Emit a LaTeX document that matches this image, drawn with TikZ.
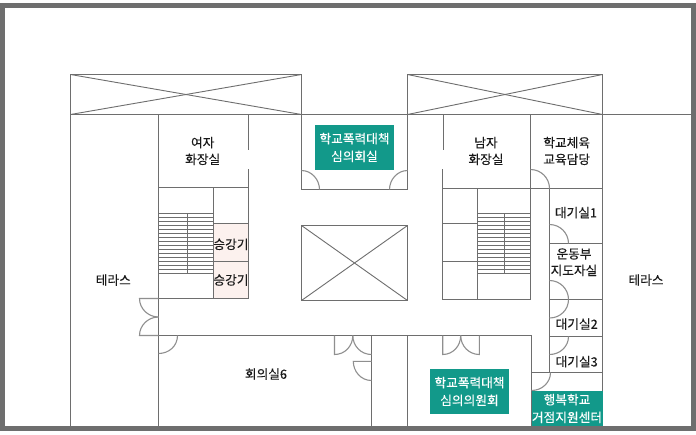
\documentclass[tikz,border=0pt]{standalone}
\usepackage{fontspec}
\setmainfont[FakeBold=0.15]{Noto Sans CJK KR}
\newlength{\du}
\setlength{\du}{1pt}
\definecolor{wallcolor}{rgb}{0.430000, 0.430000, 0.430000}
\definecolor{doorcolor}{rgb}{0.560000, 0.560000, 0.560000}
\definecolor{roomcolor}{rgb}{0.070000, 0.600000, 0.540000}
\definecolor{liftcolor}{rgb}{0.990000, 0.945000, 0.935000}
\definecolor{labelcolor}{rgb}{0.100000, 0.100000, 0.100000}
\tikzset{
  wall/.style={draw=wallcolor, line width=1.200000\du, line cap=rect},
  thinwall/.style={draw=wallcolor, line width=0.900000\du},
  frameline/.style={draw=wallcolor, line width=5.000000\du},
  door/.style={draw=doorcolor, line width=1.100000\du},
  roomlabel/.style={font=\fontsize{12.7}{16.6}\selectfont, text=labelcolor, align=center, inner sep=0pt},
  greenroom/.style={fill=roomcolor, font=\fontsize{12.7}{17.6}\selectfont, text=white, align=center, inner sep=0pt},
}
\begin{document}
\begin{tikzpicture}
\pgftransformxscale{1.000000}
\pgftransformyscale{-1.000000}
\useasboundingbox (0.000000\du,0.000000\du) rectangle (696.000000\du,434.000000\du);
% outer frame
\fill[white] (0.000000\du,0.000000\du) rectangle (696.000000\du,434.000000\du);
\draw[frameline] (2.500000\du,5.500000\du)--(693.000000\du,5.500000\du)--(693.000000\du,428.500000\du)--(2.500000\du,428.500000\du)--cycle;
% lift cabins
\fill[liftcolor] (213.500000\du,223.500000\du)--(248.500000\du,223.500000\du)--(248.500000\du,298.500000\du)--(213.500000\du,298.500000\du)--cycle;
% void left
\draw[wall] (70.500000\du,74.500000\du)--(301.500000\du,74.500000\du)--(301.500000\du,114.500000\du)--(70.500000\du,114.500000\du)--cycle;
\draw[thinwall] (70.500000\du,74.500000\du)--(301.500000\du,114.500000\du);
\draw[thinwall] (70.500000\du,114.500000\du)--(301.500000\du,74.500000\du);
% void right
\draw[wall] (407.500000\du,74.500000\du)--(602.500000\du,74.500000\du)--(602.500000\du,114.500000\du)--(407.500000\du,114.500000\du)--cycle;
\draw[thinwall] (407.500000\du,74.500000\du)--(602.500000\du,114.500000\du);
\draw[thinwall] (407.500000\du,114.500000\du)--(602.500000\du,74.500000\du);
% void centre
\draw[wall] (301.500000\du,225.500000\du)--(407.500000\du,225.500000\du)--(407.500000\du,300.500000\du)--(301.500000\du,300.500000\du)--cycle;
\draw[thinwall] (301.500000\du,225.500000\du)--(407.500000\du,300.500000\du);
\draw[thinwall] (301.500000\du,300.500000\du)--(407.500000\du,225.500000\du);
% outer walls
\draw[wall] (70.500000\du,114.500000\du)--(690.000000\du,114.500000\du);
\draw[wall] (70.500000\du,114.500000\du)--(70.500000\du,426.000000\du);
\draw[wall] (602.500000\du,114.500000\du)--(602.500000\du,426.000000\du);
% west core
\draw[wall] (158.500000\du,114.500000\du)--(158.500000\du,426.000000\du);
\draw[wall] (248.500000\du,114.500000\du)--(248.500000\du,149.000000\du);
\draw[wall] (248.500000\du,170.000000\du)--(248.500000\du,298.500000\du);
\draw[wall] (158.500000\du,187.500000\du)--(248.500000\du,187.500000\du);
\draw[wall] (213.500000\du,187.500000\du)--(213.500000\du,298.500000\du);
\draw[wall] (213.500000\du,223.500000\du)--(248.500000\du,223.500000\du);
\draw[wall] (213.500000\du,261.500000\du)--(248.500000\du,261.500000\du);
\draw[wall] (158.500000\du,298.500000\du)--(248.500000\du,298.500000\du);
% meeting room north
\draw[wall] (301.500000\du,114.500000\du)--(301.500000\du,189.500000\du)--(407.500000\du,189.500000\du)--(407.500000\du,114.500000\du);
% east core
\draw[wall] (443.500000\du,114.500000\du)--(443.500000\du,149.000000\du);
\draw[wall] (442.500000\du,170.000000\du)--(442.500000\du,299.500000\du);
\draw[wall] (442.500000\du,188.500000\du)--(602.500000\du,188.500000\du);
\draw[wall] (530.500000\du,114.500000\du)--(530.500000\du,299.500000\du);
\draw[wall] (477.500000\du,188.500000\du)--(477.500000\du,299.500000\du);
\draw[wall] (442.500000\du,223.500000\du)--(477.500000\du,223.500000\du);
\draw[wall] (442.500000\du,261.500000\du)--(477.500000\du,261.500000\du);
\draw[wall] (442.500000\du,299.500000\du)--(530.500000\du,299.500000\du);
% east rooms
\draw[wall] (549.500000\du,188.500000\du)--(549.500000\du,372.500000\du);
\draw[wall] (549.500000\du,243.500000\du)--(602.500000\du,243.500000\du);
\draw[wall] (549.500000\du,299.500000\du)--(602.500000\du,299.500000\du);
\draw[wall] (549.500000\du,336.500000\du)--(602.500000\du,336.500000\du);
\draw[wall] (531.500000\du,372.500000\du)--(602.500000\du,372.500000\du);
% south rooms
\draw[wall] (158.500000\du,335.500000\du)--(531.500000\du,335.500000\du);
\draw[wall] (371.500000\du,335.500000\du)--(371.500000\du,426.000000\du);
\draw[wall] (407.500000\du,335.500000\du)--(407.500000\du,426.000000\du);
\draw[wall] (531.500000\du,335.500000\du)--(531.500000\du,426.000000\du);
% stairs west
\draw[thinwall] (187.500000\du,213.500000\du)--(187.500000\du,273.500000\du);
\draw[thinwall] (158.500000\du,213.500000\du)--(213.500000\du,213.500000\du);
\draw[thinwall] (158.500000\du,217.500000\du)--(213.500000\du,217.500000\du);
\draw[thinwall] (158.500000\du,221.500000\du)--(213.500000\du,221.500000\du);
\draw[thinwall] (158.500000\du,225.500000\du)--(213.500000\du,225.500000\du);
\draw[thinwall] (158.500000\du,229.500000\du)--(213.500000\du,229.500000\du);
\draw[thinwall] (158.500000\du,233.500000\du)--(213.500000\du,233.500000\du);
\draw[thinwall] (158.500000\du,237.500000\du)--(213.500000\du,237.500000\du);
\draw[thinwall] (158.500000\du,241.500000\du)--(213.500000\du,241.500000\du);
\draw[thinwall] (158.500000\du,245.500000\du)--(213.500000\du,245.500000\du);
\draw[thinwall] (158.500000\du,249.500000\du)--(213.500000\du,249.500000\du);
\draw[thinwall] (158.500000\du,253.500000\du)--(213.500000\du,253.500000\du);
\draw[thinwall] (158.500000\du,257.500000\du)--(213.500000\du,257.500000\du);
\draw[thinwall] (158.500000\du,261.500000\du)--(213.500000\du,261.500000\du);
\draw[thinwall] (158.500000\du,265.500000\du)--(213.500000\du,265.500000\du);
\draw[thinwall] (158.500000\du,269.500000\du)--(213.500000\du,269.500000\du);
\draw[thinwall] (158.500000\du,273.500000\du)--(213.500000\du,273.500000\du);
% stairs east
\draw[thinwall] (504.500000\du,213.500000\du)--(504.500000\du,273.500000\du);
\draw[thinwall] (477.500000\du,213.500000\du)--(530.500000\du,213.500000\du);
\draw[thinwall] (477.500000\du,217.500000\du)--(530.500000\du,217.500000\du);
\draw[thinwall] (477.500000\du,221.500000\du)--(530.500000\du,221.500000\du);
\draw[thinwall] (477.500000\du,225.500000\du)--(530.500000\du,225.500000\du);
\draw[thinwall] (477.500000\du,229.500000\du)--(530.500000\du,229.500000\du);
\draw[thinwall] (477.500000\du,233.500000\du)--(530.500000\du,233.500000\du);
\draw[thinwall] (477.500000\du,237.500000\du)--(530.500000\du,237.500000\du);
\draw[thinwall] (477.500000\du,241.500000\du)--(530.500000\du,241.500000\du);
\draw[thinwall] (477.500000\du,245.500000\du)--(530.500000\du,245.500000\du);
\draw[thinwall] (477.500000\du,249.500000\du)--(530.500000\du,249.500000\du);
\draw[thinwall] (477.500000\du,253.500000\du)--(530.500000\du,253.500000\du);
\draw[thinwall] (477.500000\du,257.500000\du)--(530.500000\du,257.500000\du);
\draw[thinwall] (477.500000\du,261.500000\du)--(530.500000\du,261.500000\du);
\draw[thinwall] (477.500000\du,265.500000\du)--(530.500000\du,265.500000\du);
\draw[thinwall] (477.500000\du,269.500000\du)--(530.500000\du,269.500000\du);
\draw[thinwall] (477.500000\du,273.500000\du)--(530.500000\du,273.500000\du);
% doors north room
\draw[door] (301.500000\du,170.500000\du) .. controls (311.500000\du,170.500000\du) and (319.500000\du,179.500000\du) .. (319.500000\du,189.500000\du);
\draw[door] (407.500000\du,170.500000\du) .. controls (397.500000\du,170.500000\du) and (389.500000\du,179.500000\du) .. (389.500000\du,189.500000\du);
% doors east
\draw[door] (530.500000\du,169.500000\du) .. controls (541.000000\du,169.500000\du) and (549.500000\du,178.000000\du) .. (549.500000\du,188.500000\du);
\draw[door] (549.500000\du,224.500000\du) .. controls (560.000000\du,224.500000\du) and (568.500000\du,233.000000\du) .. (568.500000\du,243.500000\du);
\draw[door] (549.500000\du,280.500000\du) .. controls (560.000000\du,280.500000\du) and (568.500000\du,289.000000\du) .. (568.500000\du,299.500000\du);
\draw[door] (568.500000\du,299.500000\du) .. controls (568.500000\du,310.000000\du) and (560.000000\du,318.000000\du) .. (549.500000\du,318.000000\du);
\draw[door] (568.500000\du,336.500000\du) .. controls (568.500000\du,346.500000\du) and (560.000000\du,354.500000\du) .. (549.500000\du,354.500000\du);
\draw[door] (550.500000\du,372.500000\du) .. controls (550.500000\du,382.500000\du) and (542.000000\du,390.500000\du) .. (531.500000\du,390.500000\du);
% doors west terrace
\draw[door] (158.500000\du,298.500000\du)--(139.500000\du,298.500000\du) .. controls (139.500000\du,308.500000\du) and (148.000000\du,317.000000\du) .. (158.500000\du,317.000000\du);
\draw[door] (158.500000\du,335.500000\du)--(139.500000\du,335.500000\du) .. controls (139.500000\du,325.500000\du) and (148.000000\du,317.000000\du) .. (158.500000\du,317.000000\du);
% doors meeting room
\draw[door] (158.500000\du,353.500000\du) .. controls (169.000000\du,353.500000\du) and (177.500000\du,346.000000\du) .. (177.500000\du,335.500000\du);
\draw[door] (334.500000\du,335.500000\du)--(334.500000\du,354.500000\du) .. controls (345.000000\du,354.500000\du) and (352.800000\du,346.000000\du) .. (352.800000\du,335.500000\du);
\draw[door] (352.800000\du,335.500000\du) .. controls (352.800000\du,346.000000\du) and (361.000000\du,354.500000\du) .. (371.500000\du,354.500000\du);
\draw[door] (371.500000\du,361.300000\du)--(353.300000\du,361.300000\du) .. controls (353.300000\du,371.500000\du) and (361.000000\du,380.500000\du) .. (371.500000\du,380.500000\du);
% doors committee room
\draw[door] (442.700000\du,335.500000\du)--(442.700000\du,354.500000\du) .. controls (453.000000\du,354.500000\du) and (460.700000\du,346.000000\du) .. (460.700000\du,335.500000\du);
\draw[door] (479.300000\du,335.500000\du)--(479.300000\du,354.500000\du) .. controls (469.000000\du,354.500000\du) and (460.700000\du,346.000000\du) .. (460.700000\du,335.500000\du);
% green rooms
\node[greenroom, minimum width=79.000000\du, minimum height=45.000000\du] (meetingnorth) at (354.500000\du,147.500000\du){학교폭력대책\\심의회실};
\node[greenroom, minimum width=79.000000\du, minimum height=45.000000\du] (committee) at (469.500000\du,391.500000\du){학교폭력대책\\심의의원회};
\node[greenroom, minimum width=71.000000\du, minimum height=35.500000\du] (happyschool) at (567.000000\du,408.500000\du){행복학교\\거점지원센터};
% room labels
\node[roomlabel] (women) at (202.700000\du,151.000000\du){여자\\화장실};
\node[roomlabel] (men) at (486.000000\du,151.000000\du){남자\\화장실};
\node[roomlabel] (sports) at (566.700000\du,151.000000\du){학교체육\\교육담당};
\node[roomlabel] (waitone) at (576.000000\du,212.700000\du){대기실1};
\node[roomlabel] (coach) at (574.000000\du,262.300000\du){운동부\\지도자실};
\node[roomlabel] (waittwo) at (576.700000\du,324.000000\du){대기실2};
\node[roomlabel] (waitthree) at (576.700000\du,361.700000\du){대기실3};
\node[roomlabel] (liftone) at (231.000000\du,244.300000\du){승강기};
\node[roomlabel] (lifttwo) at (231.000000\du,280.000000\du){승강기};
\node[roomlabel] (terracewest) at (113.300000\du,280.000000\du){테라스};
\node[roomlabel] (terraceeast) at (646.000000\du,280.000000\du){테라스};
\node[roomlabel] (hallsix) at (266.000000\du,374.000000\du){회의실6};
\end{tikzpicture}
\end{document}
